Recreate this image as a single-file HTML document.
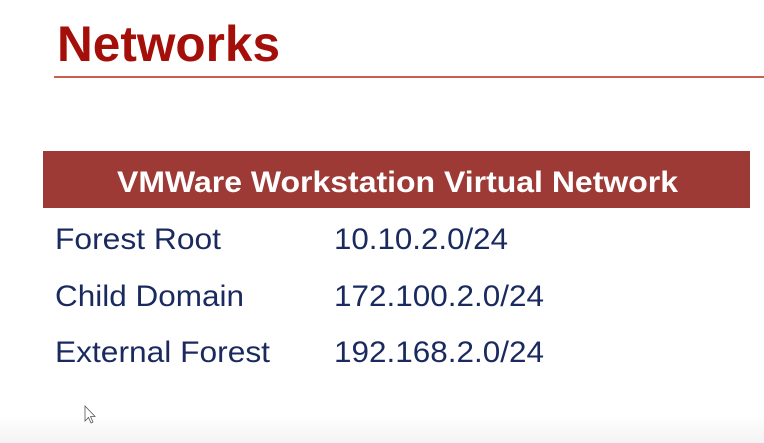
<!DOCTYPE html>
<html><head><meta charset="utf-8"><style>
html,body{margin:0;padding:0;background:#fff;width:764px;height:443px;overflow:hidden}
</style></head><body>
<svg width="764" height="443" xmlns="http://www.w3.org/2000/svg">
<defs><linearGradient id="g" x1="0" y1="0" x2="0" y2="1"><stop offset="0" stop-color="#fff"/><stop offset="1" stop-color="#f4f4f4"/></linearGradient></defs>
<rect x="0" y="415" width="764" height="28" fill="url(#g)"/>
<text x="57" y="61" font-family="Liberation Sans, sans-serif" font-weight="bold" font-size="50" fill="#a50f0a" textLength="223" lengthAdjust="spacingAndGlyphs">Networks</text>
<rect x="54" y="76" width="710" height="2" fill="#c9604f"/>
<rect x="43" y="151" width="707" height="57" fill="#9e3a35"/>
<text x="117" y="192" font-family="Liberation Sans, sans-serif" font-weight="bold" font-size="30" fill="#fff" textLength="561" lengthAdjust="spacingAndGlyphs">VMWare Workstation Virtual Network</text>
<g font-family="Liberation Sans, sans-serif" font-size="30" fill="#1a2a5e">
<text x="55" y="249" textLength="166" lengthAdjust="spacingAndGlyphs">Forest Root</text>
<text x="334" y="249" textLength="174" lengthAdjust="spacingAndGlyphs">10.10.2.0/24</text>
<text x="55" y="306" textLength="189" lengthAdjust="spacingAndGlyphs">Child Domain</text>
<text x="334" y="306" textLength="210" lengthAdjust="spacingAndGlyphs">172.100.2.0/24</text>
<text x="55" y="362" textLength="215" lengthAdjust="spacingAndGlyphs">External Forest</text>
<text x="334" y="362" textLength="210" lengthAdjust="spacingAndGlyphs">192.168.2.0/24</text>
</g>
<path d="M85 406 L85 421 L88.5 417.5 L91 423 L93 422 L90.5 416.5 L95 416.5 Z" fill="#fff" stroke="#555" stroke-width="0.8"/>
</svg>
</body></html>
